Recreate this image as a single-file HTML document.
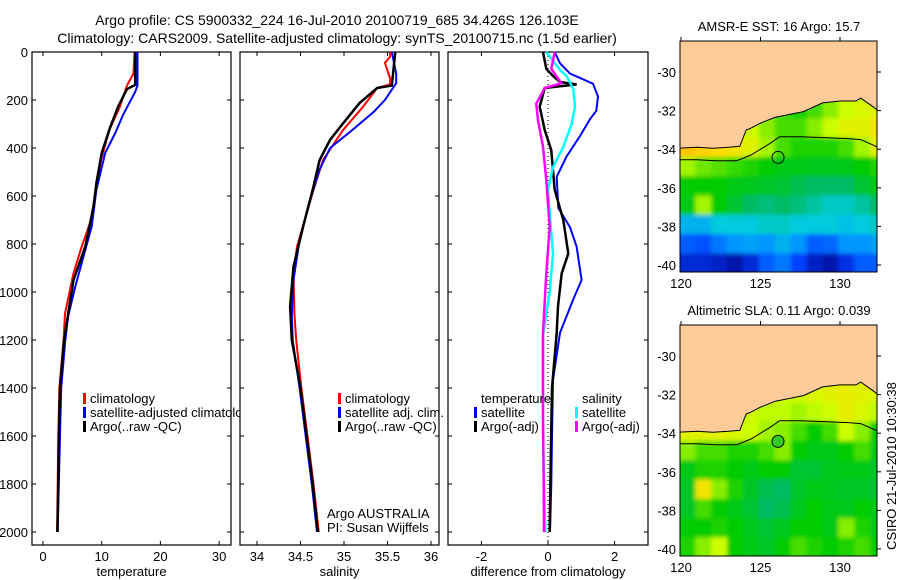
<!DOCTYPE html>
<html><head><meta charset="utf-8">
<style>
html,body{margin:0;padding:0;background:#fff;}
svg{display:block;font-family:"Liberation Sans",sans-serif;}
</style></head>
<body>
<svg id="fig" width="900" height="580" viewBox="0 0 900 580" xmlns="http://www.w3.org/2000/svg">
<defs>
<filter id="blur" x="-5%" y="-5%" width="110%" height="110%"><feGaussianBlur stdDeviation="2.2"/></filter>
<clipPath id="clipMap1"><rect x="680" y="41" width="197" height="231"/></clipPath>
<clipPath id="clipMap2"><rect x="680" y="325" width="197" height="231"/></clipPath>
</defs>
<text x="337" y="25" font-size="14" text-anchor="middle">Argo profile: CS 5900332_224 16-Jul-2010 20100719_685 34.426S 126.103E</text>
<text x="337" y="43" font-size="14" text-anchor="middle">Climatology: CARS2009. Satellite-adjusted climatology: synTS_20100715.nc (1.5d earlier)</text>
<g id="g1"></g>
<g id="g2"></g>
<g id="g3"></g>
<g id="m1"></g>
<g id="m2"></g>
<text transform="translate(896,466) rotate(-90)" font-size="13" text-anchor="middle">CSIRO 21-Jul-2010 10:30:38</text>
</svg>
<script>
// ---------- data ----------
const depthTicks = [0,200,400,600,800,1000,1200,1400,1600,1800,2000];
const tempTicks = [0,10,20,30];
const salTicks = [34,34.5,35,35.5,36];
const diffTicks = [-2,0,2];

const tClimDepth = [0,45,90,140,228,325,450,574,700,811,922,1090,1200,1400,1600,1800,2000];
const tClimVal   = [15.6,15.5,15.4,14.3,13.1,11.3,9.9,9.0,8.2,6.6,5.2,3.75,3.5,2.8,2.6,2.5,2.4];
const tSatDepth  = [0,140,166,264,333,421,574,727,852,977,1100,1200,1400,1600,1800,2000];
const tSatVal    = [16.1,16.1,15.7,13.6,12.4,10.6,9.1,8.3,6.9,5.5,4.3,3.8,3.1,2.9,2.7,2.5];
const tArgoDepth = [0,137,155,228,317,421,546,645,811,950,1090,1200,1400,1600,1800,2000];
const tArgoVal   = [15.7,15.7,14.3,12.8,11.4,10.0,9.1,8.6,7.2,5.2,4.3,3.6,2.9,2.7,2.6,2.45];

const sClimDepth = [0,20,45,110,135,150,228,325,450,574,811,922,1090,1200,1400,1600,1800,2000];
const sClimVal   = [35.53,35.53,35.47,35.53,35.53,35.38,35.22,34.99,34.76,34.65,34.46,34.42,34.43,34.45,34.51,34.58,34.65,34.71];
const sSatDepth  = [0,90,130,200,250,333,400,490,616,783,950,1100,1200,1400,1600,1800,2000];
const sSatVal    = [35.55,35.6,35.6,35.47,35.34,35.07,34.84,34.72,34.61,34.49,34.42,34.40,34.41,34.49,34.56,34.63,34.69];
const sArgoDepth = [0,140,150,212,297,366,450,560,728,894,1060,1200,1400,1600,1800,2000];
const sArgoVal   = [35.59,35.55,35.38,35.18,34.99,34.84,34.72,34.65,34.53,34.42,34.38,34.40,34.50,34.57,34.64,34.70];

const dTSatDepth  = [0,47,90,132,186,245,280,350,435,520,650,730,811,950,1030,1170,1367,1600,1800,2000];
const dTSatVal    = [0.2,0.36,0.66,1.35,1.5,1.45,1.26,0.96,0.56,0.26,0.31,0.66,0.86,1.01,0.76,0.36,0.15,0.12,0.1,0.06];
const dTArgoDepth = [0,70,100,125,135,150,228,325,410,574,700,840,922,1060,1170,1400,1700,2000];
const dTArgoVal   = [-0.15,-0.05,0.15,0.36,0.86,-0.1,-0.25,-0.1,0.1,0.2,0.46,0.61,0.41,0.3,0.26,0.12,0.08,0.05];
const dSSatDepth  = [0,75,100,155,228,300,395,480,574,670,840,1000,1180,1400,1600,1800,2000];
const dSSatVal    = [-0.05,0.36,0.56,0.76,0.81,0.71,0.46,0.15,0.0,0.05,0.15,0.05,-0.15,-0.15,-0.15,-0.12,-0.08];
const dSArgoDepth = [0,70,100,130,150,215,285,395,532,730,922,1170,1500,1800,2000];
const dSArgoVal   = [0.2,0.1,0.25,0.4,-0.1,-0.35,-0.3,-0.15,-0.05,0.05,-0.05,-0.15,-0.15,-0.13,-0.12];

// map grids: rows from lat -28.4 southward by 1 deg, cols from lon 119.9 eastward by 1 deg (0..1 colour index)
const sstGrid = [
[0.6,0.6,0.6,0.6,0.6,0.6,0.6,0.6,0.6,0.6,0.6,0.6,0.6],
[0.6,0.6,0.6,0.6,0.6,0.6,0.6,0.6,0.6,0.6,0.6,0.6,0.6],
[0.7,0.7,0.7,0.7,0.7,0.7,0.7,0.7,0.7,0.7,0.7,0.7,0.7],
[0.8,0.8,0.8,0.8,0.75,0.7,0.65,0.62,0.65,0.7,0.75,0.78,0.8],
[0.85,0.85,0.82,0.8,0.75,0.7,0.65,0.65,0.7,0.75,0.8,0.8,0.85],
[0.92,0.9,0.88,0.85,0.8,0.72,0.65,0.62,0.62,0.62,0.65,0.72,0.8],
[0.72,0.68,0.66,0.64,0.62,0.6,0.58,0.58,0.57,0.57,0.58,0.6,0.62],
[0.6,0.6,0.6,0.58,0.57,0.56,0.55,0.52,0.5,0.5,0.5,0.55,0.58],
[0.58,0.72,0.6,0.55,0.5,0.48,0.5,0.48,0.45,0.42,0.42,0.45,0.5],
[0.35,0.35,0.4,0.4,0.4,0.42,0.42,0.4,0.4,0.4,0.38,0.4,0.42],
[0.2,0.18,0.25,0.3,0.32,0.3,0.35,0.3,0.2,0.22,0.3,0.3,0.32],
[0.1,0.1,0.08,0.05,0.1,0.2,0.25,0.15,0.08,0.05,0.12,0.2,0.2]
];
const slaGrid = [
[0.75,0.75,0.75,0.75,0.75,0.75,0.75,0.75,0.75,0.75,0.75,0.75,0.75],
[0.75,0.75,0.75,0.75,0.75,0.75,0.75,0.75,0.75,0.75,0.75,0.75,0.75],
[0.78,0.78,0.78,0.78,0.78,0.78,0.78,0.78,0.78,0.78,0.8,0.8,0.78],
[0.8,0.8,0.8,0.8,0.78,0.78,0.76,0.76,0.78,0.8,0.82,0.8,0.78],
[0.8,0.8,0.8,0.78,0.76,0.74,0.74,0.72,0.74,0.76,0.82,0.78,0.74],
[0.8,0.8,0.8,0.78,0.75,0.72,0.7,0.65,0.6,0.65,0.75,0.7,0.6],
[0.7,0.65,0.65,0.62,0.62,0.65,0.7,0.6,0.58,0.58,0.6,0.65,0.58],
[0.58,0.62,0.62,0.6,0.58,0.6,0.6,0.55,0.55,0.57,0.58,0.58,0.56],
[0.56,0.85,0.7,0.62,0.56,0.52,0.5,0.56,0.58,0.57,0.56,0.56,0.55],
[0.56,0.65,0.6,0.58,0.55,0.5,0.52,0.57,0.6,0.58,0.57,0.6,0.58],
[0.6,0.6,0.62,0.6,0.57,0.55,0.57,0.6,0.6,0.58,0.7,0.62,0.58],
[0.62,0.7,0.75,0.6,0.58,0.56,0.6,0.65,0.62,0.6,0.62,0.65,0.6]
];
const latTicks = [-30,-32,-34,-36,-38,-40];
const lonTicks = [120,125,130];
const coastLon = [119.9,121,122,123,123.7,124.1,124.3,125.0,125.9,126.8,127.7,128.9,130.0,131.0,131.3,132.0,132.4];
const coastLat = [-33.95,-33.9,-33.95,-33.9,-33.85,-33.0,-32.95,-32.65,-32.35,-32.2,-32.05,-31.6,-31.5,-31.5,-31.35,-31.75,-32.0];
const isoLon = [119.9,121,122.2,123.5,124.4,125.6,126.2,127.5,129,130.5,131.3,132.4];
const isoLat = [-34.55,-34.55,-34.6,-34.6,-34.3,-33.7,-33.35,-33.35,-33.4,-33.45,-33.5,-33.9];
const floatLon = 126.103, floatLat = -34.426;

// ---------- helpers ----------
const NS = "http://www.w3.org/2000/svg";
function mk(tag, attrs, parent){const e=document.createElementNS(NS,tag);for(const k in attrs)e.setAttribute(k,attrs[k]);parent.appendChild(e);return e;}
const yD = d => 52 + 0.24*d;
const xT = v => 43 + 5.87*v;
const xS = v => 257 + 87*(v-34);
const xDf = v => 548 + 33.3*v;
const TOP=52, BOT=545;

function panel(g, x0, x1, xs, ticks, fmt, xlabel, yLabels){
  const r = mk('rect',{x:x0,y:TOP,width:x1-x0,height:BOT-TOP,fill:'#fff',stroke:'#000','stroke-width':1.2},g);
  
  
  depthTicks.forEach(d=>{
    const y=yD(d);
    const t=mk('path',{d:`M${x0},${y}h4M${x1},${y}h-4`,stroke:'#000','stroke-width':1},g);
    
    
    if(yLabels){
      const l=mk('text',{x:x0-4,y:y+5,'font-size':13,'text-anchor':'end'},g);
      l.textContent=d;
      
      
    }
  });
  ticks.forEach(v=>{
    const x=xs(v);
    const t=mk('path',{d:`M${x},${TOP}v4M${x},${BOT}v-4`,stroke:'#000','stroke-width':1},g);
    
    
    const l=mk('text',{x:x,y:561,'font-size':13,'text-anchor':'middle'},g);
    l.textContent=fmt(v);
    
    
  });
  const xl=mk('text',{x:(x0+x1)/2,y:576,'font-size':13,'text-anchor':'middle'},g);
  xl.textContent=xlabel;
  
  
}
function line(g, depths, vals, xs, color, w, name){
  const pts = depths.map((d,i)=>xs(vals[i]).toFixed(1)+','+yD(d).toFixed(1)).join(' ');
  const p = mk('polyline',{points:pts,fill:'none',stroke:color,'stroke-width':w,'stroke-linejoin':'miter'},g);
  
  
}
function legend(g, x, y, color, label){
  if(color){
    const b=mk('rect',{x:x-7,y:y-10,width:3,height:11,fill:color},g);
    
    
  }
  const t=mk('text',{x:x,y:y,'font-size':13},g);
  t.textContent=label;
  
  
}

// ---------- panel 1 ----------
const g1=document.getElementById('g1');
panel(g1,32,231,xT,tempTicks,v=>v,'temperature',true);
line(g1,tClimDepth,tClimVal,xT,'#ff0000',2,'temp-climatology-line');
line(g1,tSatDepth,tSatVal,xT,'#0000ff',2,'temp-satellite-line');
line(g1,tArgoDepth,tArgoVal,xT,'#000000',2.5,'temp-argo-line');
legend(g1,90,403,'#ff0000','climatology');
legend(g1,90,417,'#0000ff','satellite-adjusted climatology');
legend(g1,90,431,'#000000','Argo(..raw -QC)');

// ---------- panel 2 ----------
const g2=document.getElementById('g2');
panel(g2,240,439,xS,salTicks,v=>v,'salinity',false);
line(g2,sClimDepth,sClimVal,xS,'#ff0000',2,'sal-climatology-line');
line(g2,sSatDepth,sSatVal,xS,'#0000ff',2,'sal-satellite-line');
line(g2,sArgoDepth,sArgoVal,xS,'#000000',2.5,'sal-argo-line');
legend(g2,345,403,'#ff0000','climatology');
legend(g2,345,417,'#0000ff','satellite adj. clim.');
legend(g2,345,431,'#000000','Argo(..raw -QC)');
legend(g2,327,518,null,'Argo AUSTRALIA');
legend(g2,327,532,null,'PI: Susan Wijffels');

// ---------- panel 3 ----------
const g3=document.getElementById('g3');
panel(g3,448,648,xDf,diffTicks,v=>v,'difference from climatology',false);
const zl=mk('line',{x1:xDf(0),y1:TOP,x2:xDf(0),y2:BOT,stroke:'#000','stroke-width':1,'stroke-dasharray':'1,3'},g3);


line(g3,dTSatDepth,dTSatVal,xDf,'#0000ff',2,'temp-diff-satellite-line');
line(g3,dTArgoDepth,dTArgoVal,xDf,'#000000',2.5,'temp-diff-argo-line');
line(g3,dSSatDepth,dSSatVal,xDf,'#00ffff',2.5,'sal-diff-satellite-line');
line(g3,dSArgoDepth,dSArgoVal,xDf,'#ff00ff',2.5,'sal-diff-argo-line');
legend(g3,481,403,null,'temperature');
legend(g3,481,417,'#0000ff','satellite');
legend(g3,481,431,'#000000','Argo(-adj)');
legend(g3,582,403,null,'salinity');
legend(g3,582,417,'#00ffff','satellite');
legend(g3,582,431,'#ff00ff','Argo(-adj)');

// ---------- maps ----------
const stops=[[0,[0,0,128]],[0.15,[0,64,255]],[0.3,[0,150,255]],[0.4,[0,204,221]],[0.5,[0,187,100]],[0.6,[0,204,0]],[0.75,[204,255,0]],[0.88,[255,221,0]],[1,[255,153,0]]];
function cmap(v){
  v=Math.max(0,Math.min(1,v));
  for(let i=1;i<stops.length;i++){ if(v<=stops[i][0]){const a=stops[i-1],b=stops[i],f=(v-a[0])/(b[0]-a[0]);
    return 'rgb('+a[1].map((c,k)=>Math.round(c+(b[1][k]-c)*f)).join(',')+')';}}
  return 'rgb(255,153,0)';
}
const xLon = lon => 681 + (lon-120)*15.9;
function drawMap(g, grid, yTop, yLat30, clipId, title, markerFill){
  const yLat = lat => yLat30 + (-30-lat)*19.3;
  const tt=mk('text',{x:779,y:yTop-10,'font-size':13,'text-anchor':'middle'},g);
  tt.textContent=title;
  
  
  const cg=mk('g',{'clip-path':`url(#${clipId})`},g);
  const hg=mk('g',{filter:'url(#blur)'},cg);
  
  
  grid.forEach((row,i)=>row.forEach((v,j)=>{
    let x=xLon(119.9+j), y=yLat(-28.4-i), w=15.9, h=19.3;
    if(j===0){x-=10;w+=10;} if(j===row.length-1){w+=12;}
    if(i===grid.length-1){h+=12;}
    const c=mk('rect',{x:x,y:y,width:w+0.5,height:h+0.5,fill:cmap(v)},hg);
    
    
  }));
  let d='M'+xLon(119.4)+','+(yTop-5)+' L'+xLon(119.4)+','+yLat(coastLat[0]).toFixed(1);
  coastLon.forEach((lo,i)=>{d+=' L'+xLon(lo).toFixed(1)+','+yLat(coastLat[i]).toFixed(1);});
  d+=' L'+xLon(133)+','+yLat(-32.0).toFixed(1)+' L'+xLon(133)+','+(yTop-5)+' Z';
  const land=mk('path',{d:d,fill:'#ffcc99',stroke:'none'},cg);
  
  
  const coast=mk('polyline',{points:coastLon.map((lo,i)=>xLon(lo).toFixed(1)+','+yLat(coastLat[i]).toFixed(1)).join(' '),fill:'none',stroke:'#000','stroke-width':1},cg);
  
  
  const iso=mk('polyline',{points:isoLon.map((lo,i)=>xLon(lo).toFixed(1)+','+yLat(isoLat[i]).toFixed(1)).join(' '),fill:'none',stroke:'#000','stroke-width':1},cg);
  
  
  const fl=mk('circle',{cx:xLon(floatLon),cy:yLat(floatLat),r:6,fill:markerFill,stroke:'#000','stroke-width':1},g);
  
  
  const fr=mk('rect',{x:680,y:yTop,width:197,height:231,fill:'none',stroke:'#000','stroke-width':1},g);
  
  
  latTicks.forEach(lat=>{
    const y=yLat(lat);
    const t=mk('path',{d:`M877,${y}h4`,stroke:'#000','stroke-width':1},g);
    
    
    const l=mk('text',{x:676,y:y+5,'font-size':13,'text-anchor':'end'},g);
    l.textContent=lat;
    
    
  });
  lonTicks.forEach(lon=>{
    const x=xLon(lon);
    const t=mk('path',{d:`M${x},${yTop}v-4`,stroke:'#000','stroke-width':1},g);
    
    
    const l=mk('text',{x:x,y:yTop+231+16,'font-size':13,'text-anchor':'middle'},g);
    l.textContent=lon;
    
    
  });
}
drawMap(document.getElementById('m1'),sstGrid,41,72,'clipMap1','AMSR-E SST: 16 Argo: 15.7','none');
drawMap(document.getElementById('m2'),slaGrid,325,356,'clipMap2','Altimetric SLA: 0.11 Argo: 0.039','#33cc22');
</script>
</body></html>
